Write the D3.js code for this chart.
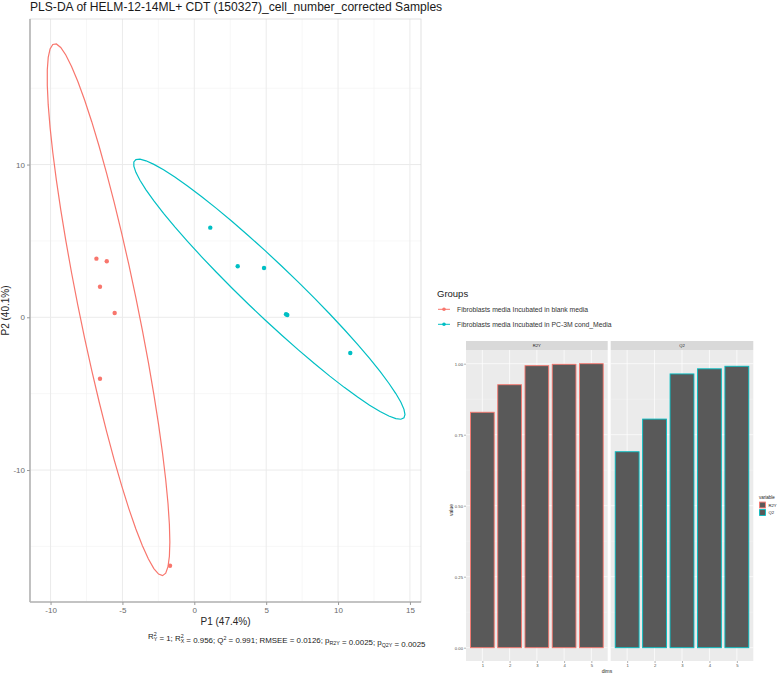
<!DOCTYPE html>
<html>
<head>
<meta charset="utf-8">
<script src="https://cdn.jsdelivr.net/npm/d3@7"></script>
<style>
  html, body { margin: 0; padding: 0; background: #fff; }
  svg { display: block; font-family: "Liberation Sans", Arial, sans-serif; }
</style>
</head>
<body>
<svg id="chart" width="781" height="675"></svg>
<script>
// ---------------- data ----------------
const chartTitle = "PLS-DA of HELM-12-14ML+ CDT (150327)_cell_number_corrected Samples";
const groupNames = ["Fibroblasts media Incubated in blank media", "Fibroblasts media Incubated in PC-3M cond_Media"];
const groupColors = ["#F8766D", "#00BFC4"];
const blankP1 = [-6.81, -6.09, -6.56, -5.54, -6.56, -1.69];
const blankP2 = [3.84, 3.67, 2.00, 0.28, -4.02, -16.27];
const condP1 = [1.11, 3.02, 4.85, 6.38, 6.47, 10.85];
const condP2 = [5.87, 3.34, 3.23, 0.20, 0.15, -2.34];
const p1Ticks = [-10, -5, 0, 5, 10, 15];
const p2Ticks = [-10, 0, 10];
const xTitle = "P1 (47.4%)";
const yTitle = "P2 (40.1%)";

const dims = [1, 2, 3, 4, 5];
const r2yValues = [0.829, 0.926, 0.993, 0.998, 1.0];
const q2Values = [0.690, 0.805, 0.964, 0.982, 0.991];
const facetNames = ["R2Y", "Q2"];
const valueTicks = [0, 0.25, 0.5, 0.75, 1.0];

// ---------------- helpers ----------------
const svg = d3.select("#chart");

// MASS::cov.trob (nu = 5) as used by ggplot2 stat_ellipse(type = "t")
function covTrob(pts, nu = 5, maxit = 25, tol = 0.01) {
  const n = pts.length, p = 2;
  let loc = [d3.mean(pts, d => d[0]), d3.mean(pts, d => d[1])];
  let w = pts.map(() => 1);
  let X;
  for (let iter = 0; iter < maxit; iter++) {
    const w0 = w.slice();
    X = pts.map(d => [d[0] - loc[0], d[1] - loc[1]]);
    const sw = d3.sum(w);
    let s11 = 0, s12 = 0, s22 = 0;
    X.forEach((x, i) => { const f = w[i] / sw; s11 += f * x[0] * x[0]; s12 += f * x[0] * x[1]; s22 += f * x[1] * x[1]; });
    const det = s11 * s22 - s12 * s12;
    const Q = X.map(x => (s22 * x[0] * x[0] - 2 * s12 * x[0] * x[1] + s11 * x[1] * x[1]) / det);
    w = Q.map(q => (nu + p) / (nu + q));
    const sw2 = d3.sum(w);
    loc = [d3.sum(pts, (d, i) => w[i] * d[0]) / sw2, d3.sum(pts, (d, i) => w[i] * d[1]) / sw2];
    if (w.every((v, i) => Math.abs(v - w0[i]) < tol)) break;
  }
  let c11 = 0, c12 = 0, c22 = 0;
  X.forEach((x, i) => { c11 += w[i] * x[0] * x[0]; c12 += w[i] * x[0] * x[1]; c22 += w[i] * x[1] * x[1]; });
  return { cov: [c11 / n, c12 / n, c22 / n], center: loc };
}
function ellipsePoints(pts, level = 0.95, segments = 51) {
  const { cov, center } = covTrob(pts);
  const dfd = pts.length - 1;
  const qf = dfd / 2 * (Math.pow(1 - level, -2 / dfd) - 1); // qf(level, 2, dfd)
  const radius = Math.sqrt(2 * qf);
  const a = Math.sqrt(cov[0]), b = cov[1] / a, c = Math.sqrt(cov[2] - b * b);
  return d3.range(segments + 1).map(k => {
    const t = k * 2 * Math.PI / segments;
    return [center[0] + radius * a * Math.cos(t), center[1] + radius * (b * Math.cos(t) + c * Math.sin(t))];
  });
}

// ---------------- scatter (score plot) ----------------
const sp = { left: 30, right: 421, top: 19, bottom: 602 };
const x = d3.scaleLinear().domain([-11.43, 15.77]).range([sp.left, sp.right]);
const y = d3.scaleLinear().domain([-18.64, 19.53]).range([sp.bottom, sp.top]);

svg.append("text").attr("x", 30).attr("y", 11).attr("font-size", 12.1).attr("fill", "#1a1a1a").text(chartTitle);

const gS = svg.append("g");
// grid
const xMinor = d3.range(-12.5, 16, 2.5).filter(v => v >= -11.43 && v <= 15.77 && !p1Ticks.includes(v));
const yMinor = [-15, -5, 5, 15];
gS.selectAll(".xmin").data(xMinor).join("line").attr("x1", d => x(d)).attr("x2", d => x(d)).attr("y1", sp.top).attr("y2", sp.bottom).attr("stroke", "#f2f2f2").attr("stroke-width", 0.6);
gS.selectAll(".ymin").data(yMinor).join("line").attr("y1", d => y(d)).attr("y2", d => y(d)).attr("x1", sp.left).attr("x2", sp.right).attr("stroke", "#f2f2f2").attr("stroke-width", 0.6);
gS.selectAll(".xmaj").data(p1Ticks).join("line").attr("x1", d => x(d)).attr("x2", d => x(d)).attr("y1", sp.top).attr("y2", sp.bottom).attr("stroke", "#ebebeb").attr("stroke-width", 1);
gS.selectAll(".ymaj").data(p2Ticks).join("line").attr("y1", d => y(d)).attr("y2", d => y(d)).attr("x1", sp.left).attr("x2", sp.right).attr("stroke", "#ebebeb").attr("stroke-width", 1);
// panel border
gS.append("rect").attr("x", sp.left).attr("y", sp.top).attr("width", sp.right - sp.left).attr("height", sp.bottom - sp.top).attr("fill", "none").attr("stroke", "#d9d9d9").attr("stroke-width", 0.8);

// axes
const fmt = d => String(d);
const xAxis = d3.axisBottom(x).tickValues(p1Ticks).tickSize(3).tickPadding(2).tickFormat(fmt);
const yAxis = d3.axisLeft(y).tickValues(p2Ticks).tickSize(3).tickPadding(2).tickFormat(fmt);
const gx = svg.append("g").attr("transform", `translate(0,${sp.bottom})`).call(xAxis);
const gy = svg.append("g").attr("transform", `translate(${sp.left},0)`).call(yAxis);
[gx, gy].forEach(g => {
  g.select(".domain").attr("stroke", "#b5b5b5").attr("stroke-width", 1.6);
  g.selectAll(".tick line").attr("stroke", "#999");
  g.selectAll(".tick text").attr("fill", "#6b6b6b").attr("font-size", 8).attr("font-family", "Liberation Sans, Arial, sans-serif");
});
gx.select(".domain").attr("d", `M${sp.left},0H${sp.right}`);
gy.select(".domain").attr("d", `M0,${sp.bottom}V${sp.top}`);

svg.append("text").attr("x", (sp.left + sp.right) / 2).attr("y", 625).attr("text-anchor", "middle").attr("font-size", 10).attr("fill", "#262626").text(xTitle);
svg.append("text").attr("transform", `translate(8.5,${(sp.top + sp.bottom) / 2}) rotate(-90)`).attr("text-anchor", "middle").attr("font-size", 10).attr("fill", "#262626").text(yTitle);

// groups
const groups = [
  { name: groupNames[0], color: groupColors[0], pts: blankP1.map((v, i) => [v, blankP2[i]]) },
  { name: groupNames[1], color: groupColors[1], pts: condP1.map((v, i) => [v, condP2[i]]) }
];
const line = d3.line().x(d => x(d[0])).y(d => y(d[1])).curve(d3.curveLinearClosed);
groups.forEach(g => {
  gS.append("path").attr("d", line(ellipsePoints(g.pts))).attr("fill", "none").attr("stroke", g.color).attr("stroke-width", 1.2);
});
groups.forEach(g => {
  gS.selectAll(null).data(g.pts).join("circle").attr("cx", d => x(d[0])).attr("cy", d => y(d[1])).attr("r", 2.2).attr("fill", g.color);
});

// stats line
const st = svg.append("text").attr("x", 148).attr("y", 639).attr("font-size", 7.9).attr("fill", "#1a1a1a");
function sup(t) { st.append("tspan").attr("dy", -3).attr("font-size", 5.3).text(t); }
function subAfterSup(t, back) { st.append("tspan").attr("dx", -back).attr("dy", 5).attr("font-size", 5.3).text(t); st.append("tspan").attr("dy", -2).text(""); }
function sub(t) { st.append("tspan").attr("dy", 2).attr("font-size", 5.3).text(t); st.append("tspan").attr("dy", -2).text(""); }
function txt(t) { st.append("tspan").text(t); }
txt("R"); sup("2"); subAfterSup("Y", 3); txt(" = 1; R"); sup("2"); subAfterSup("X", 3);
txt(" = 0.956; Q"); sup("2"); st.append("tspan").attr("dy", 3).text(" = 0.991; RMSEE = 0.0126; p");
sub("R2Y"); txt(" = 0.0025; p"); sub("Q2Y"); txt(" = 0.0025");

// legend Groups
svg.append("text").attr("x", 437).attr("y", 297).attr("font-size", 9.5).attr("fill", "#1a1a1a").text("Groups");
groups.forEach((g, i) => {
  const cy = 309.3 + i * 15;
  svg.append("line").attr("x1", 438).attr("x2", 450).attr("y1", cy).attr("y2", cy).attr("stroke", g.color).attr("stroke-width", 1);
  svg.append("circle").attr("cx", 444).attr("cy", cy).attr("r", 1.8).attr("fill", g.color);
  svg.append("text").attr("x", 457).attr("y", cy + 2.4).attr("font-size", 6.8).attr("fill", "#333").text(g.name);
});

// ---------------- facetted bar chart ----------------
const by = d3.scaleLinear().domain([-0.05, 1.05]).range([661.9, 349.5]);
const panels = [
  { name: facetNames[0], vals: r2yValues, color: groupColors[0], x0: 466, x1: 607.7 },
  { name: facetNames[1], vals: q2Values, color: groupColors[1], x0: 610.7, x1: 753.3 }
];
const pTop = 350, pBot = 661, stripTop = 341;
const yMinorB = [0.125, 0.375, 0.625, 0.875];
panels.forEach((p, pi) => {
  const g = svg.append("g");
  const bx = d3.scaleLinear().domain([0.4, 5.6]).range([p.x0, p.x1]);
  g.append("rect").attr("x", p.x0).attr("y", pTop).attr("width", p.x1 - p.x0).attr("height", pBot - pTop).attr("fill", "#ebebeb");
  g.selectAll(".ymn").data(yMinorB).join("line").attr("x1", p.x0).attr("x2", p.x1).attr("y1", d => by(d)).attr("y2", d => by(d)).attr("stroke", "#f5f5f5").attr("stroke-width", 0.4);
  g.selectAll(".ymj").data(valueTicks).join("line").attr("x1", p.x0).attr("x2", p.x1).attr("y1", d => by(d)).attr("y2", d => by(d)).attr("stroke", "#fff").attr("stroke-width", 0.7);
  g.selectAll(".xmj").data(dims).join("line").attr("x1", d => bx(d)).attr("x2", d => bx(d)).attr("y1", pTop).attr("y2", pBot).attr("stroke", "#fff").attr("stroke-width", 0.7);
  // strip
  g.append("rect").attr("x", p.x0).attr("y", stripTop).attr("width", p.x1 - p.x0).attr("height", pTop - stripTop).attr("fill", "#d9d9d9");
  g.append("text").attr("x", (p.x0 + p.x1) / 2).attr("y", pTop - 3).attr("text-anchor", "middle").attr("font-size", 4.2).attr("fill", "#1a1a1a").text(p.name);
  // bars
  g.selectAll(".bar").data(dims).join("rect")
    .attr("x", d => bx(d - 0.45) + 0.4).attr("width", d => bx(d + 0.45) - bx(d - 0.45) - 0.8)
    .attr("y", (d, i) => by(p.vals[i])).attr("height", (d, i) => by(0) - by(p.vals[i]))
    .attr("fill", "#595959").attr("stroke", p.color).attr("stroke-width", 0.9);
  // x ticks
  const ax = d3.axisBottom(bx).tickValues(dims).tickSize(2).tickPadding(1).tickFormat(d3.format("d"));
  const ga = svg.append("g").attr("transform", `translate(0,${pBot})`).call(ax);
  ga.select(".domain").remove();
  ga.selectAll(".tick line").attr("stroke", "#444").attr("stroke-width", 0.4);
  ga.selectAll(".tick text").attr("font-size", 4.2).attr("fill", "#4d4d4d");
});
const ayB = d3.axisLeft(by).tickValues(valueTicks).tickSize(2).tickPadding(1).tickFormat(d3.format(".2f"));
const gay = svg.append("g").attr("transform", `translate(466,0)`).call(ayB);
gay.select(".domain").remove();
gay.selectAll(".tick line").attr("stroke", "#444").attr("stroke-width", 0.4);
gay.selectAll(".tick text").attr("font-size", 4.2).attr("fill", "#4d4d4d");
svg.append("text").attr("x", 607).attr("y", 673).attr("text-anchor", "middle").attr("font-size", 5).attr("fill", "#1a1a1a").text("dims");
svg.append("text").attr("transform", `translate(453,510) rotate(-90)`).attr("text-anchor", "middle").attr("font-size", 5).attr("fill", "#1a1a1a").text("value");

// legend variable
svg.append("text").attr("x", 759).attr("y", 499).attr("font-size", 4.5).attr("fill", "#1a1a1a").text("variable");
panels.forEach((p, i) => {
  const ky = 501.5 + i * 7.5;
  svg.append("rect").attr("x", 759).attr("y", ky).attr("width", 7).attr("height", 7).attr("fill", "#f2f2f2");
  svg.append("rect").attr("x", 759.6).attr("y", ky + 0.6).attr("width", 5.8).attr("height", 5.8).attr("fill", "#595959").attr("stroke", p.color).attr("stroke-width", 0.9);
  svg.append("text").attr("x", 768.5).attr("y", ky + 5).attr("font-size", 4.2).attr("fill", "#1a1a1a").text(p.name);
});
</script>
</body>
</html>
